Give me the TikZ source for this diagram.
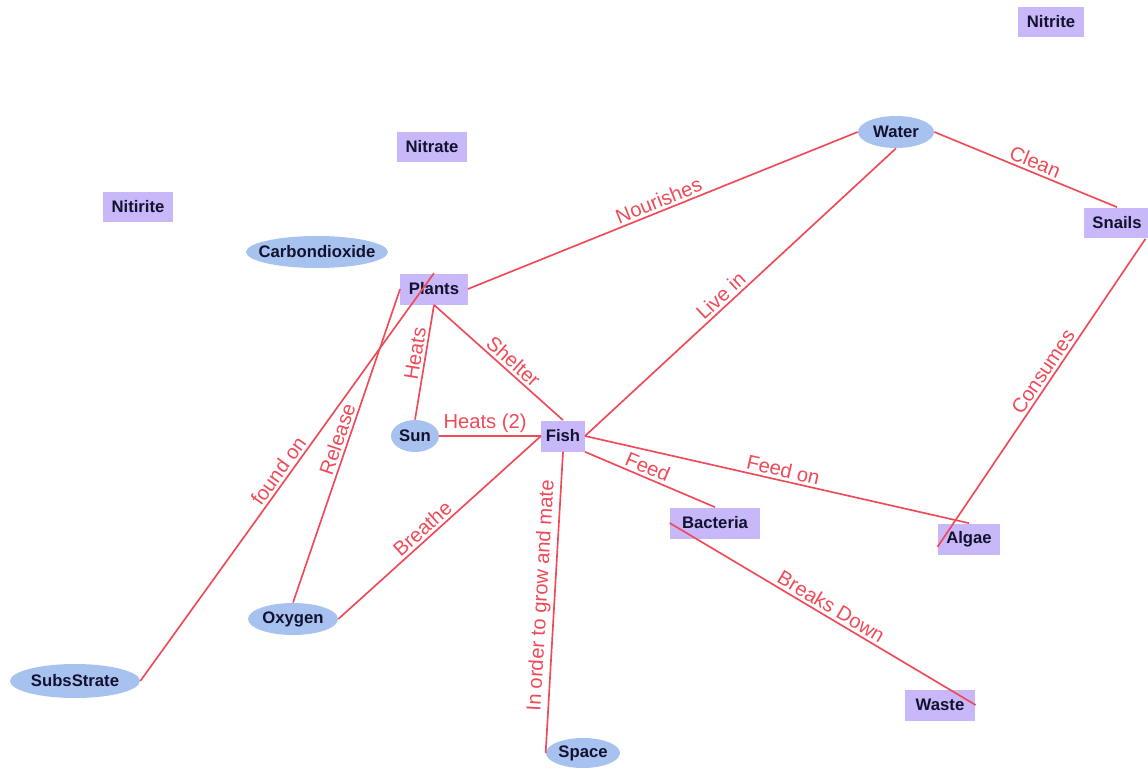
\documentclass[tikz,border=0pt]{standalone}
\usepackage{fontspec}
\setmainfont{Liberation Sans}
\usetikzlibrary{shapes.geometric}
\definecolor{boxfill}{RGB}{200,184,250}
\definecolor{blobfill}{RGB}{168,194,240}
\definecolor{linkred}{RGB}{240,74,88}
\definecolor{nametext}{RGB}{18,18,48}

\begin{document}
\begin{tikzpicture}[
    x=0.02cm, y=-0.02cm,
    concept/.style={rectangle, fill=boxfill, minimum height=0.62cm, inner xsep=0.17cm, font=\fontsize{9.5}{11}\selectfont\bfseries, text=nametext},
    thing/.style={ellipse, fill=blobfill, minimum height=0.64cm, inner xsep=-0.8cm, inner ysep=0pt, font=\fontsize{9.5}{11}\selectfont\bfseries, text=nametext},
    every edge/.append style={draw=linkred, line width=0.95pt},
    link/.style={sloped, above, inner sep=1.5pt, font=\fontsize{11.5}{13}\selectfont, text=linkred}
]
   \useasboundingbox (0,0) rectangle (1148,767);

   % Concepts
   \node[concept] (nitrite) at (1051,22) {Nitrite};
   \node[concept] (nitrate) at (432,147) {Nitrate};
   \node[concept] (nitirite) at (138,207) {Nitirite};
   \node[thing, minimum width=2.84cm] (carbon) at (317,252) {Carbondioxide};
   \node[concept] (plants) at (434,289) {Plants};
   \node[thing, minimum width=1.52cm] (water) at (896,132) {Water};
   \node[concept] (snails) at (1117,223) {Snails};
   \node[thing, minimum width=0.96cm] (sun) at (415,436) {Sun};
   \node[concept, inner xsep=0.09cm] (fish) at (563,436) {Fish};
   \node[concept, inner xsep=0.24cm] (bacteria) at (715,523) {Bacteria};
   \node[concept] (algae) at (969,539) {Algae};
   \node[thing, minimum width=1.8cm] (oxygen) at (293,619) {Oxygen};
   \node[thing, minimum width=2.6cm, minimum height=0.68cm] (subs) at (75,681) {SubsStrate};
   \node[concept, inner xsep=0.22cm] (waste) at (940,705) {Waste};
   \node[thing, minimum width=1.48cm, minimum height=0.6cm] (space) at (583,753) {Space};

   % Links
   \path
   (plants.east) edge node[link] {Nourishes} (water.west)
   (water.east) edge node[link, pos=0.53] {Clean} (snails.north)
   (fish.east) edge node[link, pos=0.46] {Live in} (water.south)
   ([xshift=-0.1cm]snails.south east) edge node[link, pos=0.45] {Consumes} ([yshift=-0.16cm]algae.west)

   (plants.south) edge node[link, pos=0.56] {Shelter} (fish.north)
   (plants.south) edge node[link, pos=0.44] {Heats} (sun.north)
   (sun.east) edge node[link, pos=0.45] {Heats (2)} (fish.west)
   (fish.west) edge node[link, pos=0.55] {Breathe} (oxygen.east)
   (fish.south) edge node[link, pos=0.48] {In order to grow and mate} (space.west)
   (fish.south east) edge node[link, pos=0.45] {Feed} (bacteria.north)
   (fish.east) edge node[link, pos=0.51] {Feed on} (algae.north)
   (bacteria.west) edge node[link, pos=0.51] {Breaks Down} (waste.east)

   (plants.north) edge node[link, pos=0.5] {found on} (subs.east)
   (plants.west) edge node[link, pos=0.49] {Release} (oxygen.north);
\end{tikzpicture}
\end{document}
